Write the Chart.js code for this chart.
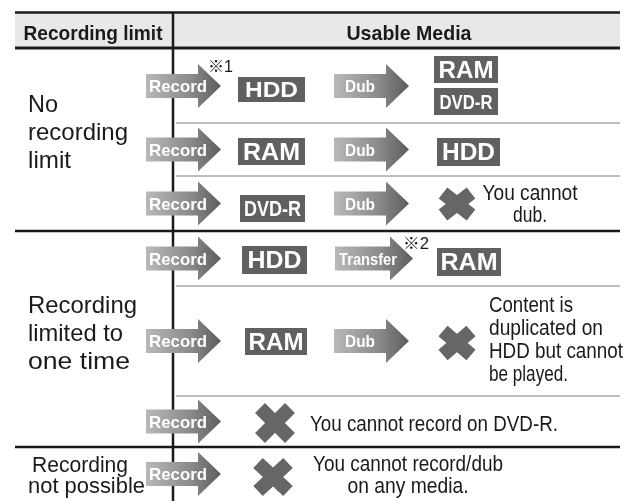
<!DOCTYPE html>
<html><head><meta charset="utf-8">
<script src="https://cdn.jsdelivr.net/npm/chart.js@4.4.0/dist/chart.umd.min.js"></script>
<style>html,body{margin:0;padding:0;background:#fff;overflow:hidden}canvas{display:block}</style>
</head><body>
<canvas id="c" width="626" height="501" style="width:626px;height:501px"></canvas>
<script>
// ---- data ----
const headers = ['Recording limit', 'Usable Media'];
const groupLabels = [['No', 'recording', 'limit'], ['Recording', 'limited to', 'one time'], ['Recording', 'not possible']];
const firstActions = ['Record', 'Record', 'Record', 'Record', 'Record', 'Record', 'Record'];
const firstMedia = ['HDD', 'RAM', 'DVD-R', 'HDD', 'RAM', '', ''];
const secondActions = ['Dub', 'Dub', 'Dub', 'Transfer', 'Dub', '', ''];
const secondMedia = [['RAM', 'DVD-R'], ['HDD'], [], ['RAM'], [], [], []];
const notes = [[], [], ['You cannot', 'dub.'], [], ['Content is', 'duplicated on', 'HDD but cannot', 'be played.'], ['You cannot record on DVD-R.'], ['You cannot record/dub', 'on any media.']];
const crossed = [false, false, true, false, true, true, true];
const footnotes = ['※1', '※2'];

// ---- layout ----
const FONT = '"Liberation Sans", Arial, "Noto Sans CJK JP", sans-serif';
const rowEdges = [49, 123, 176, 231, 286, 396, 447, 501];
const groupLayout = [
  {x: [28, 28, 28], base: [112, 140, 168], size: 24, w: [30, 100, 43]},
  {x: [28, 28, 28], base: [313, 341, 369], size: 24, w: [109, 95, 102]},
  {x: [32, 28], base: [472, 493], size: 22, w: [96, 117]}
];

const tablePlugin = {
  id: 'tablePlugin',
  afterDraw(chart) {
    const ctx = chart.ctx, sx = chart.scales.x, sy = chart.scales.y;
    const X = v => sx.getPixelForValue(v), Y = v => sy.getPixelForValue(v);

    function fit(s, x, y, size, bold, color, align, w) {
      ctx.save();
      ctx.font = (bold ? 'bold ' : '') + size + 'px ' + FONT;
      ctx.fillStyle = color;
      ctx.textBaseline = 'alphabetic';
      ctx.textAlign = 'left';
      const m = ctx.measureText(s).width;
      const k = w ? w / m : 1;
      let px = X(x);
      if (align === 'center') px -= m * k / 2;
      ctx.translate(px, Y(y));
      ctx.scale(k, 1);
      ctx.fillText(s, 0, 0);
      ctx.restore();
    }
    function hline(x0, x1, y, lw, color) {
      ctx.beginPath(); ctx.moveTo(X(x0), Y(y)); ctx.lineTo(X(x1), Y(y));
      ctx.lineWidth = lw; ctx.strokeStyle = color; ctx.stroke();
    }
    function arrow(x0, xb, xt, cy, label, lx, lw, size) {
      const g = ctx.createLinearGradient(X(x0), 0, X(xt), 0);
      g.addColorStop(0, '#b9b9b9'); g.addColorStop(0.6, '#8a8a8a'); g.addColorStop(1, '#5c5c5c');
      ctx.beginPath();
      ctx.moveTo(X(x0), Y(cy - 12)); ctx.lineTo(X(xb), Y(cy - 12)); ctx.lineTo(X(xb), Y(cy - 22));
      ctx.lineTo(X(xt), Y(cy)); ctx.lineTo(X(xb), Y(cy + 22)); ctx.lineTo(X(xb), Y(cy + 12));
      ctx.lineTo(X(x0), Y(cy + 12)); ctx.closePath();
      ctx.fillStyle = g; ctx.fill();
      fit(label, lx, cy + 6, size, true, '#ffffff', 'left', lw);
    }
    function box(x0, x1, y0, y1, label, size, w) {
      ctx.fillStyle = '#606060';
      ctx.fillRect(X(x0), Y(y0), X(x1) - X(x0), Y(y1) - Y(y0));
      fit(label, (x0 + x1) / 2, (y0 + y1) / 2 + size * 0.36, size, true, '#ffffff', 'center', w);
    }
    function cross(cx, cy, hw, hh) {
      ctx.save();
      ctx.strokeStyle = '#666666'; ctx.lineWidth = 14; ctx.lineCap = 'butt';
      const ax = hw - 5, ay = hh - 5;
      ctx.beginPath();
      ctx.moveTo(X(cx - ax), Y(cy - ay)); ctx.lineTo(X(cx + ax), Y(cy + ay));
      ctx.moveTo(X(cx - ax), Y(cy + ay)); ctx.lineTo(X(cx + ax), Y(cy - ay));
      ctx.stroke();
      ctx.restore();
    }

    // header background
    ctx.fillStyle = '#e8e8e8';
    ctx.fillRect(X(15), Y(13.5), X(620) - X(15), Y(46.5) - Y(13.5));
    fit(headers[0], 93, 40, 21, true, '#1a1a1a', 'center', 139);
    fit(headers[1], 409, 40, 21, true, '#1a1a1a', 'center', 125);

    // thin row separators
    [1, 2, 4, 5].forEach(i => hline(176, 620, rowEdges[i], 1.5, '#a8a8a8'));
    // heavy lines
    hline(15, 620, 12.5, 2.5, '#1a1a1a');
    hline(15, 620, 48, 3, '#1a1a1a');
    hline(15, 620, 231, 2.5, '#1a1a1a');
    hline(15, 620, 447, 2.5, '#1a1a1a');
    ctx.beginPath(); ctx.moveTo(X(173), Y(12)); ctx.lineTo(X(173), Y(501));
    ctx.lineWidth = 2.5; ctx.strokeStyle = '#1a1a1a'; ctx.stroke();

    // group labels
    groupLabels.forEach((lines, g) => {
      const L = groupLayout[g];
      lines.forEach((s, j) => fit(s, L.x[j], L.base[j], L.size, false, '#1a1a1a', 'left', L.w[j]));
    });

    // rows
    const boxPos = [
      {x0: 238, x1: 305, y0: 77, y1: 102, size: 22, w: 53},
      {x0: 238, x1: 305, y0: 138, y1: 165, size: 23, w: 57},
      {x0: 240, x1: 305, y0: 195, y1: 222, size: 22, w: 57},
      {x0: 242, x1: 307, y0: 246, y1: 274, size: 23, w: 54},
      {x0: 245, x1: 307, y0: 328, y1: 355, size: 23, w: 55}
    ];
    const targetPos = [
      [{x0: 434, x1: 498, y0: 56, y1: 83, size: 23, w: 55}, {x0: 434, x1: 498, y0: 88, y1: 115, size: 21, w: 53}],
      [{x0: 437, x1: 500, y0: 138, y1: 166, size: 23, w: 53}],
      [],
      [{x0: 437, x1: 501, y0: 248, y1: 276, size: 23, w: 57}],
      [], [], []
    ];
    const crossPos = [null, null, [457, 204, 19, 16], null, [457, 343, 19, 17], [275, 423, 20, 20], [273, 477, 20, 19]];
    const notePos = [
      null, null,
      {x: 530, base: [200, 222], w: [95, 34], align: 'center'},
      null,
      {x: 489, base: [312, 335, 358, 381], w: [84, 114, 134, 79], align: 'left'},
      {x: 310, base: [431], w: [248], align: 'left'},
      {x: 408, base: [471, 493], w: [190, 121], align: 'center'}
    ];

    for (let r = 0; r < firstActions.length; r++) {
      const cy = (rowEdges[r] + rowEdges[r + 1]) / 2;
      if (firstActions[r]) arrow(146, 198, 221, cy, firstActions[r], 149, 58, 17);
      if (firstMedia[r]) { const b = boxPos[r]; box(b.x0, b.x1, b.y0, b.y1, firstMedia[r], b.size, b.w); }
      if (secondActions[r]) {
        if (secondActions[r] === 'Transfer') arrow(335, 390, 413, cy, secondActions[r], 339, 58, 16);
        else arrow(334, 386, 409, cy, secondActions[r], 345, 30, 16);
      }
      secondMedia[r].forEach((m, j) => { const b = targetPos[r][j]; box(b.x0, b.x1, b.y0, b.y1, m, b.size, b.w); });
      if (crossed[r]) { const c = crossPos[r]; cross(c[0], c[1], c[2], c[3]); }
      if (notes[r].length) {
        const n = notePos[r];
        notes[r].forEach((s, j) => fit(s, n.x, n.base[j], 22, false, '#1a1a1a', n.align, n.w[j]));
      }
    }
    // footnote marks
    fit(footnotes[0], 208, 72, 16, false, '#1a1a1a', 'left', 25);
    fit(footnotes[1], 403, 249, 16, false, '#1a1a1a', 'left', 26);
  }
};

new Chart(document.getElementById('c'), {
  type: 'scatter',
  data: {datasets: [{data: []}]},
  options: {
    responsive: false, animation: false, devicePixelRatio: 1,
    layout: {padding: 0},
    scales: {
      x: {type: 'linear', min: 0, max: 626, display: false},
      y: {type: 'linear', min: 0, max: 501, reverse: true, display: false}
    },
    plugins: {legend: {display: false}, tooltip: {enabled: false}}
  },
  plugins: [tablePlugin]
});
</script>
</body></html>
